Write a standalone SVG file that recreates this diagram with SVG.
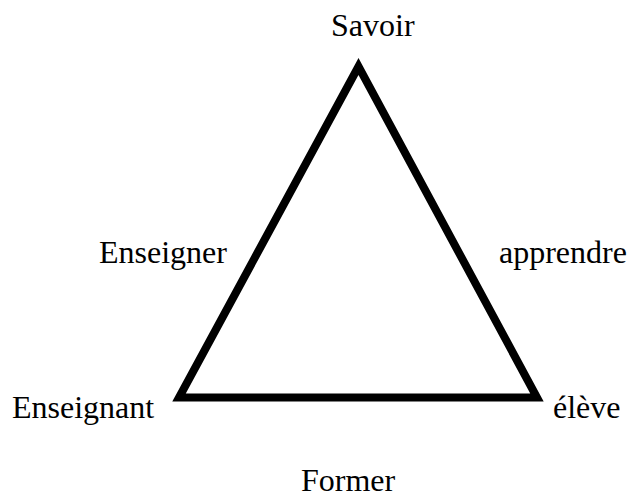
<svg xmlns="http://www.w3.org/2000/svg" width="627" height="497" viewBox="0 0 627 497">
<style>
.lbl{font-family:"Liberation Serif","Times New Roman",serif;font-size:32px;fill:#000}
.edge{fill:none;stroke:#000;stroke-width:8;stroke-linejoin:miter;stroke-miterlimit:10}
</style>
<rect width="627" height="497" fill="#fff"/>
<g id="connectors">
<polygon class="edge" points="358.5,66.5 179,397.5 537,397.5"/>
</g>
<g id="savoir"><text class="lbl" x="331" y="36">Savoir</text></g>
<g id="enseignant"><text class="lbl" x="12" y="418">Enseignant</text></g>
<g id="eleve"><text class="lbl" x="553" y="418">élève</text></g>
<g id="enseigner"><text class="lbl" x="99" y="263">Enseigner</text></g>
<g id="apprendre"><text class="lbl" x="499" y="263">apprendre</text></g>
<g id="former"><text class="lbl" x="301" y="491">Former</text></g>
</svg>
